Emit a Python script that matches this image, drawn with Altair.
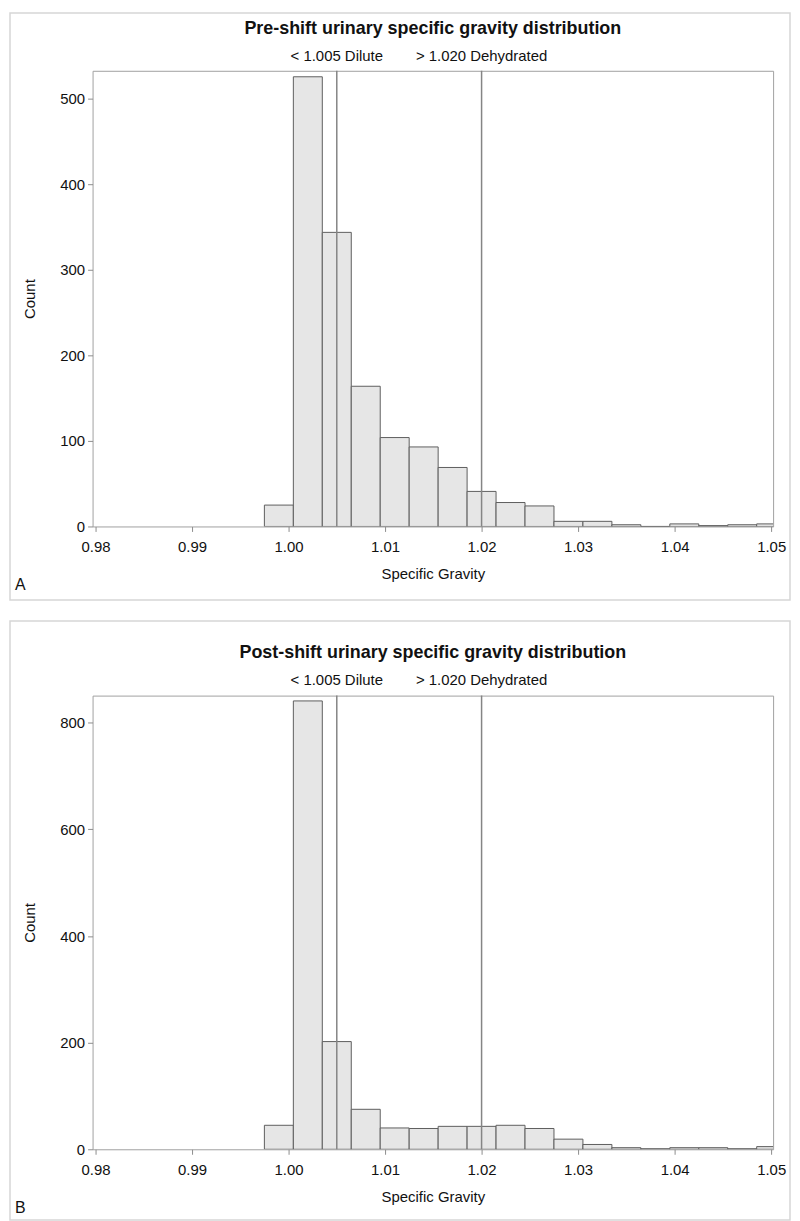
import altair as alt
import pandas as pd

# ---------------- data ----------------
bin_centers = [0.999, 1.002, 1.005, 1.008, 1.011, 1.014, 1.017, 1.020, 1.023,
               1.026, 1.029, 1.032, 1.035, 1.038, 1.041, 1.044, 1.047, 1.050]
bin_width = 0.003
pre_counts = [25, 526, 344, 164, 104, 93, 69, 41, 28, 24, 6, 6, 2, 0, 3, 1, 2, 3]
post_counts = [45, 841, 202, 75, 40, 39, 43, 43, 45, 39, 19, 9, 3, 1, 3, 3, 1, 5]
ref_values = [1.005, 1.020]
ref_labels = ["< 1.005 Dilute", "> 1.020 Dehydrated"]
x_ticks = [0.98, 0.99, 1.00, 1.01, 1.02, 1.03, 1.04, 1.05]
x_domain = [0.9797, 1.0502]
pre_yticks = [0, 100, 200, 300, 400, 500]
post_yticks = [0, 200, 400, 600, 800]
titles = ["Pre-shift urinary specific gravity distribution",
          "Post-shift urinary specific gravity distribution"]
letters = ["A", "B"]

FONT = "Liberation Sans, Arial, sans-serif"
W = 684


def panel(counts, yticks, ymax, title, letter, height, box_top, box_bottom,
          title_y, sub_y, letter_y):
    bars_df = pd.DataFrame({
        "bin_start": [c - bin_width / 2 for c in bin_centers],
        "bin_end": [c + bin_width / 2 for c in bin_centers],
        "count": counts,
    })
    ref_df = pd.DataFrame({"value": ref_values, "label": ref_labels})
    one = pd.DataFrame({"k": [0]})

    xscale = alt.Scale(domain=x_domain, nice=False, zero=False, padding=0)
    xaxis = alt.Axis(values=x_ticks, format=".2f", title="Specific Gravity",
                     grid=False, domain=False, tickSize=5, tickColor="#8c8c8c",
                     labelPadding=8, titleY=47, titleBaseline="middle")
    yaxis = alt.Axis(values=yticks, title="Count", grid=False, domain=False,
                     tickSize=5, tickColor="#8c8c8c", labelPadding=3,
                     titleX=-63, titleY=height / 2, titleBaseline="middle")

    box = alt.Chart(one).mark_rect(fill="transparent", stroke="#d6d6d6",
                                   strokeWidth=1.5).encode(
        x=alt.value(-83), x2=alt.value(W + 17),
        y=alt.value(box_top), y2=alt.value(box_bottom))

    bars = alt.Chart(bars_df).mark_bar(fill="#e6e6e6", stroke="#5e5e5e",
                                       strokeWidth=1, clip=True).encode(
        x=alt.X("bin_start:Q", scale=xscale, axis=xaxis, title="Specific Gravity"),
        x2="bin_end:Q",
        y=alt.Y("count:Q", scale=alt.Scale(domain=[0, ymax], nice=False, padding=0),
                axis=yaxis, title="Count"),
        y2=alt.datum(0),
    )

    rules = alt.Chart(ref_df).mark_rule(stroke="#858585", strokeWidth=1.5).encode(
        x=alt.X("value:Q", title="Specific Gravity"))

    ref_text = alt.Chart(ref_df).mark_text(fontSize=15, baseline="middle",
                                           align="center", color="#111").encode(
        x=alt.X("value:Q", title="Specific Gravity"),
        y=alt.value(sub_y), text="label:N")

    title_text = alt.Chart(pd.DataFrame({"t": [title]})).mark_text(
        fontSize=18, fontWeight="bold", baseline="middle", align="center",
        color="#111").encode(x=alt.value(W / 2), y=alt.value(title_y), text="t:N")

    letter_text = alt.Chart(pd.DataFrame({"t": [letter]})).mark_text(
        fontSize=16, baseline="middle", align="left", color="#111").encode(
        x=alt.value(-78), y=alt.value(letter_y), text="t:N")

    return alt.layer(box, bars, rules, ref_text, title_text, letter_text).properties(
        width=W, height=height)


top = panel(pre_counts, pre_yticks, 533, titles[0], letters[0], 458,
            -58, 532, -42, -15, 517)
bottom = panel(post_counts, post_yticks, 851, titles[1], letters[1], 456,
               -75, 527, -43, -16, 515)

chart = alt.vconcat(top, bottom, spacing=17).configure_view(
    stroke="#a0a0a0", strokeWidth=1
).configure_axis(
    labelFont=FONT, titleFont=FONT, labelFontSize=15, titleFontSize=15,
    labelColor="#111", titleColor="#111", titleFontWeight="normal"
).configure_text(font=FONT).properties(
    padding={"left": 0, "top": 0, "right": 0, "bottom": 0}
)

chart.save("out.html", embed_options={"renderer": "svg", "actions": False})
